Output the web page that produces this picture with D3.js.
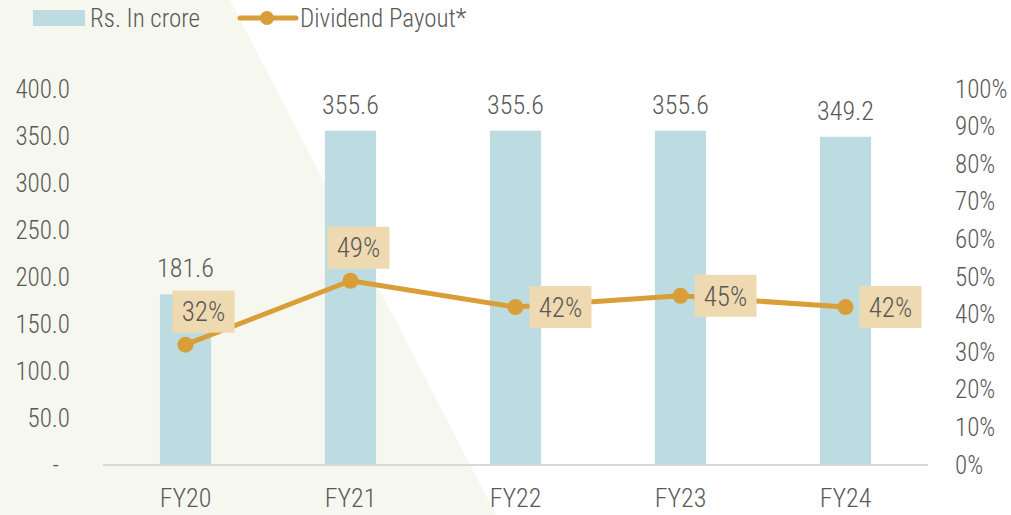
<!DOCTYPE html>
<html>
<head>
<meta charset="utf-8">
<script src="https://cdn.jsdelivr.net/npm/d3@7/dist/d3.min.js"></script>
<style>
  html, body { margin: 0; padding: 0; background: #ffffff; }
  svg { display: block; }
  text { font-family: "Roboto Condensed", "Liberation Sans", sans-serif; font-weight: 300; fill: #595959; }
</style>
</head>
<body>
<svg id="chart" width="1011" height="515"></svg>
<script>
// Dividend paid (Rs. in crore) and dividend payout ratio, FY20–FY24
const categories = ["FY20", "FY21", "FY22", "FY23", "FY24"];
const dividendCrore = [181.6, 355.6, 355.6, 355.6, 349.2];
const payoutPct = [32, 49, 42, 45, 42];
const leftTicks = [0, 50, 100, 150, 200, 250, 300, 350, 400];
const rightTicks = [0, 10, 20, 30, 40, 50, 60, 70, 80, 90, 100];
// where each payout label sits relative to its point
const payoutLabelSide = ["above", "above", "right", "right", "right"];

const colors = {
  bar: "#bddce1",
  line: "#da9e38",
  labelBox: "#efd9b0",
  axis: "#d9d9d9",
  text: "#595959",
  panel: "#f6f7ee"
};

const svg = d3.select("#chart");
const W = 1011, H = 515;
const plot = { left: 103, right: 928, top: 89, bottom: 465 };

// soft diagonal panel behind the left part of the chart
svg.append("path")
  .attr("d", `M0,0 L230,0 L496,${H} L0,${H} Z`)
  .attr("fill", colors.panel);

const x = d3.scaleBand()
  .domain(categories)
  .range([plot.left, plot.right])
  .paddingInner(0.69)
  .paddingOuter(0.345);

const yLeft = d3.scaleLinear().domain([0, 400]).range([plot.bottom, plot.top]);
const yRight = d3.scaleLinear().domain([0, 100]).range([plot.bottom, plot.top]);

// left axis
const leftAxis = svg.append("g")
  .attr("transform", `translate(${plot.left - 33},0)`)
  .call(d3.axisLeft(yLeft).tickValues(leftTicks).tickSize(0).tickPadding(0)
    .tickFormat(d => d === 0 ? "-" : d.toFixed(1)));
leftAxis.select(".domain").remove();
leftAxis.selectAll("text")
  .attr("font-size", 25)
  .attr("fill", colors.text)
  .attr("dx", d => d === 0 ? -11 : 0);

// right axis
const rightAxis = svg.append("g")
  .attr("transform", `translate(${plot.right + 27},0)`)
  .call(d3.axisRight(yRight).tickValues(rightTicks).tickSize(0).tickPadding(0)
    .tickFormat(d => d + "%"));
rightAxis.select(".domain").remove();
rightAxis.selectAll("text").attr("font-size", 25).attr("fill", colors.text);

// bars
svg.append("g").selectAll("rect")
  .data(categories)
  .join("rect")
  .attr("x", d => x(d))
  .attr("width", x.bandwidth())
  .attr("y", (d, i) => yLeft(dividendCrore[i]))
  .attr("height", (d, i) => yLeft(0) - yLeft(dividendCrore[i]))
  .attr("fill", colors.bar);

// bar value labels
svg.append("g").selectAll("text")
  .data(categories)
  .join("text")
  .attr("x", d => x(d) + x.bandwidth() / 2)
  .attr("y", (d, i) => yLeft(dividendCrore[i]) - 17)
  .attr("text-anchor", "middle")
  .attr("font-size", 26)
  .text((d, i) => dividendCrore[i].toFixed(1));

// baseline
svg.append("line")
  .attr("x1", plot.left).attr("x2", plot.right)
  .attr("y1", plot.bottom).attr("y2", plot.bottom)
  .attr("stroke", colors.axis).attr("stroke-width", 2);

// x labels
const xAxis = svg.append("g")
  .attr("transform", `translate(0,${plot.bottom})`)
  .call(d3.axisBottom(x).tickSize(0).tickPadding(0));
xAxis.select(".domain").remove();
xAxis.selectAll("text")
  .attr("font-size", 26)
  .attr("fill", colors.text)
  .attr("dy", "1.6em");

// payout line
const cx = d => x(d) + x.bandwidth() / 2;
const line = d3.line()
  .x((d, i) => cx(categories[i]))
  .y(d => yRight(d));

svg.append("path")
  .datum(payoutPct)
  .attr("d", line)
  .attr("fill", "none")
  .attr("stroke", colors.line)
  .attr("stroke-width", 5)
  .attr("stroke-linejoin", "round");

svg.append("g").selectAll("circle")
  .data(payoutPct)
  .join("circle")
  .attr("cx", (d, i) => cx(categories[i]))
  .attr("cy", d => yRight(d))
  .attr("r", 8)
  .attr("fill", colors.line);

// payout labels in boxes
const boxW = 62, boxH = 42;
const labels = svg.append("g").selectAll("g")
  .data(payoutPct)
  .join("g")
  .attr("transform", (d, i) => {
    const px = cx(categories[i]), py = yRight(d);
    let bx, by;
    if (payoutLabelSide[i] === "right") { bx = px + 45; by = py; }
    else { bx = px + (i === 0 ? 18 : 8); by = py - 33; }
    return `translate(${bx},${by})`;
  });
labels.append("rect")
  .attr("x", -boxW / 2).attr("y", -boxH / 2)
  .attr("width", boxW).attr("height", boxH)
  .attr("fill", colors.labelBox);
labels.append("text")
  .attr("text-anchor", "middle")
  .attr("dy", "0.36em")
  .attr("font-size", 27)
  .attr("fill", "#404040")
  .text(d => d + "%");

// legend
const legend = svg.append("g");
legend.append("rect")
  .attr("x", 33).attr("y", 10).attr("width", 52).attr("height", 16)
  .attr("fill", colors.bar);
legend.append("text")
  .attr("x", 90).attr("y", 27)
  .attr("font-size", 25)
  .text("Rs. In crore");
legend.append("line")
  .attr("x1", 240).attr("x2", 296).attr("y1", 18).attr("y2", 18)
  .attr("stroke", colors.line).attr("stroke-width", 5).attr("stroke-linecap", "round");
legend.append("circle")
  .attr("cx", 267).attr("cy", 18).attr("r", 7)
  .attr("fill", colors.line);
legend.append("text")
  .attr("x", 300).attr("y", 27)
  .attr("font-size", 25)
  .text("Dividend Payout*");
</script>
</body>
</html>
